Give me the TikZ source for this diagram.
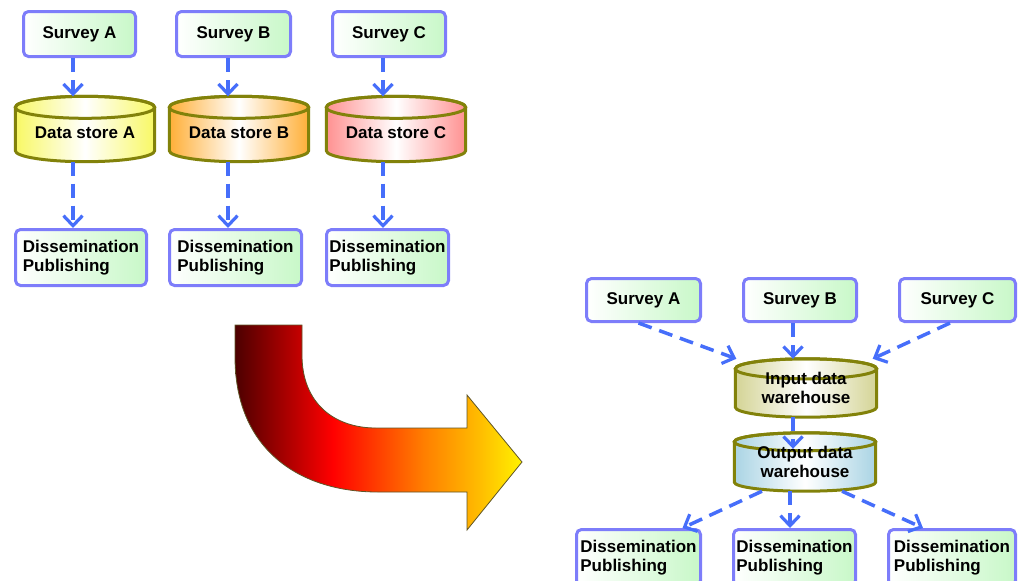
\documentclass[tikz,border=0pt]{standalone}
\usepackage{fontspec}
\setmainfont{Liberation Sans}
\usetikzlibrary{arrows.meta,calc}
\pgfdeclarelayer{background}
\pgfsetlayers{background,main}
\definecolor{boxline}{RGB}{125,125,250}
\definecolor{boxgreen}{RGB}{200,248,200}
\definecolor{flowblue}{RGB}{70,110,250}
\definecolor{storeline}{RGB}{130,130,10}
\definecolor{storeA}{RGB}{248,248,100}
\definecolor{storeB}{RGB}{255,175,55}
\definecolor{storeC}{RGB}{255,145,145}
\definecolor{storeIn}{RGB}{212,212,150}
\definecolor{storeOut}{RGB}{170,212,228}
\definecolor{turnline}{RGB}{95,85,40}
\pgfdeclarehorizontalshading{bigturn}{100bp}{rgb(0bp)=(0.3,0,0); rgb(25bp)=(0.3,0,0); rgb(42bp)=(1,0,0); rgb(58bp)=(1,0.5,0); rgb(68bp)=(1,0.75,0); rgb(75bp)=(1,0.95,0); rgb(100bp)=(1,0.95,0)}
\tikzset{%
    box/.style={rectangle,rounded corners=5pt,draw=boxline,line width=3pt,
        left color=white,right color=boxgreen,align=left,inner sep=2pt,
        font=\fontsize{17}{19}\selectfont\bfseries}
}
\newcommand{\storecyl}[3]{%
    \path[draw=storeline,line width=3pt,left color=#2,right color=#2,middle color=white]
        let \p1=(#1.west), \p2=(#1.east), \n1={(\x2-\x1)/2} in
        ($(#1.north west)+(0,-#3)$) -- ($(#1.south west)+(0,#3)$)
        arc[start angle=180,end angle=360,x radius=\n1,y radius=#3pt]
        -- ($(#1.north east)+(0,-#3)$)
        arc[start angle=0,end angle=180,x radius=\n1,y radius=#3pt] -- cycle;
    \path[draw=storeline,line width=3pt]
        let \p1=(#1.west), \p2=(#1.east), \n1={(\x2-\x1)/2} in
        ($(#1.north)+(0,-#3)$) ellipse[x radius=\n1,y radius=#3pt];
}

\begin{document}
\begin{tikzpicture}[
        x=1pt,y=1pt,
        store/.style={rectangle,inner sep=0pt,align=center,
            font=\fontsize{17}{19}\selectfont\bfseries},
        storeone/.style={store,text height=20pt,text depth=2pt},
        flow/.style={draw=flowblue,line width=3.5pt,dash pattern=on 14pt off 8pt,
            -{Straight Barb[length=10pt,width=19pt,line width=3.2pt]}}
        ]
        \useasboundingbox (0,0) rectangle (1018,-581);
        \clip (0,0) rectangle (1018,-581);

        \node[box, minimum width=112pt, minimum height=45pt] (sA) at (79.5,-34) {Survey A};
        \node[box, minimum width=114pt, minimum height=45pt] (sB) at (233.5,-34) {Survey B};
        \node[box, minimum width=113pt, minimum height=45pt] (sC) at (389,-34) {Survey C};

        \node[storeone, minimum width=139pt, minimum height=65pt] (dA) at (85,-129) {Data store A};
        \node[storeone, minimum width=139pt, minimum height=65pt] (dB) at (239,-129) {Data store B};
        \node[storeone, minimum width=139pt, minimum height=65pt] (dC) at (396,-129) {Data store C};

        \node[box, minimum width=131pt, minimum height=56pt] (pA) at (81,-257.5) {Dissemination\\Publishing};
        \node[box, minimum width=132pt, minimum height=56pt] (pB) at (235.5,-257.5) {Dissemination\\Publishing};
        \node[box, minimum width=122pt, minimum height=56pt] (pC) at (387.5,-257.5) {Dissemination\\Publishing};

        \node[box, minimum width=114pt, minimum height=43pt] (rA) at (643.5,-300) {Survey A};
        \node[box, minimum width=113pt, minimum height=43pt] (rB) at (800,-300) {Survey B};
        \node[box, minimum width=116pt, minimum height=43pt] (rC) at (957.5,-300) {Survey C};

        \node[store, minimum width=141pt, minimum height=58pt] (iW) at (806,-388) {Input data\\warehouse};
        \node[store, minimum width=141pt, minimum height=58pt] (oW) at (805,-462) {Output data\\warehouse};

        \node[box, minimum width=124pt, minimum height=56pt] (qA) at (638.5,-557.5) {Dissemination\\Publishing};
        \node[box, minimum width=122pt, minimum height=56pt] (qB) at (794.5,-557.5) {Dissemination\\Publishing};
        \node[box, minimum width=127pt, minimum height=56pt] (qC) at (952,-557.5) {Dissemination\\Publishing};

        \begin{pgfonlayer}{background}
            \storecyl{dA}{storeA}{11}
            \storecyl{dB}{storeB}{11}
            \storecyl{dC}{storeC}{11}
            \storecyl{iW}{storeIn}{10}
            \storecyl{oW}{storeOut}{9}
        \end{pgfonlayer}

        \draw[flow] ([xshift=-6.5pt]sA.south) -- ([xshift=-6.5pt]sA.south |- dA.north);
        \draw[flow] ([xshift=-5.5pt]sB.south) -- ([xshift=-5.5pt]sB.south |- dB.north);
        \draw[flow] ([xshift=-6pt]sC.south) -- ([xshift=-6pt]sC.south |- dC.north);
        \draw[flow] ([xshift=-12pt]dA.south) -- ([xshift=-12pt]dA.south |- pA.north);
        \draw[flow] ([xshift=-11pt]dB.south) -- ([xshift=-11pt]dB.south |- pB.north);
        \draw[flow] ([xshift=-13pt]dC.south) -- ([xshift=-13pt]dC.south |- pC.north);

        \draw[flow] ([xshift=-5pt]rA.south) -- ([xshift=1pt]iW.north west);
        \draw[flow] ([xshift=-7pt]rB.south) -- ([xshift=-13pt]iW.north);
        \draw[flow] ([xshift=-7.5pt]rC.south) -- ([xshift=-4pt]iW.north east);
        \draw[flow] ([xshift=-13pt]iW.south) -- ([xshift=-12pt,yshift=-16pt]oW.north);
        \draw[flow] ([xshift=-43pt]oW.south) -- ([xshift=44pt]qA.north);
        \draw[flow] ([xshift=-15pt]oW.south) -- ([xshift=-4.5pt]qB.north);
        \draw[flow] ([xshift=37pt]oW.south) -- ([xshift=-29pt]qC.north);

        \path[draw=turnline, line width=0.8pt, shading=bigturn]
            (235,-325) -- (235,-357) .. controls (235,-450) and (300,-492) .. (378,-492)
            -- (467,-492) -- (467,-530) -- (522,-462) -- (467,-395) -- (467,-428)
            -- (376,-428) .. controls (334,-428) and (302,-403) .. (302,-355)
            -- (302,-325) -- cycle;
    \end{tikzpicture}
\end{document}
